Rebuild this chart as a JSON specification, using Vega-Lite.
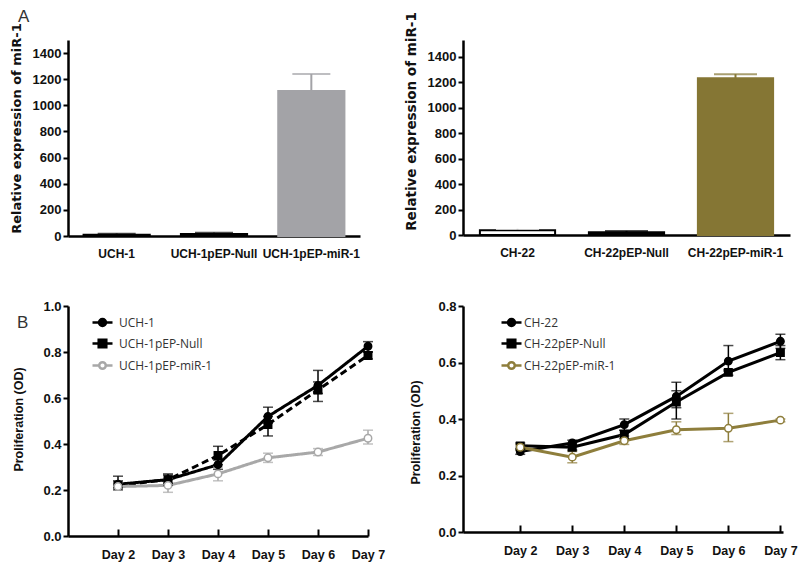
{
  "$schema": "https://vega.github.io/schema/vega-lite/v6.json",
  "background": "white",
  "padding": {"left": 9, "top": 7, "right": 5, "bottom": 3},
  "bounds": "flush",
  "columns": 2,
  "align": "each",
  "spacing": {"row": 70, "column": 95},
  "resolve": {
    "scale": {"color": "independent", "fill": "independent", "stroke": "independent", "shape": "independent", "strokeDash": "independent", "strokeWidth": "independent"},
    "legend": {"color": "independent", "fill": "independent", "stroke": "independent", "shape": "independent", "strokeDash": "independent", "strokeWidth": "independent"}
  },
  "datasets": {
    "barsA": [
      {"group": "UCH-1", "value": 10, "hi": 18},
      {"group": "UCH-1pEP-Null", "value": 15, "hi": 25},
      {"group": "UCH-1pEP-miR-1", "value": 1110, "hi": 1240}
    ],
    "barsB": [
      {"group": "CH-22", "value": 38, "hi": 48},
      {"group": "CH-22pEP-Null", "value": 22, "hi": 32},
      {"group": "CH-22pEP-miR-1", "value": 1230, "hi": 1262}
    ],
    "lineA": [
      {"series": "UCH-1", "day": 2, "value": 0.225, "lo": 0.2, "hi": 0.26},
      {"series": "UCH-1", "day": 3, "value": 0.245, "lo": 0.23, "hi": 0.27},
      {"series": "UCH-1", "day": 4, "value": 0.31, "lo": 0.29, "hi": 0.33},
      {"series": "UCH-1", "day": 5, "value": 0.52, "lo": 0.49, "hi": 0.56},
      {"series": "UCH-1", "day": 6, "value": 0.655, "lo": 0.62, "hi": 0.72},
      {"series": "UCH-1", "day": 7, "value": 0.825, "lo": 0.8, "hi": 0.845},
      {"series": "UCH-1pEP-Null", "day": 2, "value": 0.22, "lo": 0.21, "hi": 0.24},
      {"series": "UCH-1pEP-Null", "day": 3, "value": 0.245, "lo": 0.22, "hi": 0.265},
      {"series": "UCH-1pEP-Null", "day": 4, "value": 0.35, "lo": 0.31, "hi": 0.39},
      {"series": "UCH-1pEP-Null", "day": 5, "value": 0.485, "lo": 0.435, "hi": 0.52},
      {"series": "UCH-1pEP-Null", "day": 6, "value": 0.635, "lo": 0.585, "hi": 0.67},
      {"series": "UCH-1pEP-Null", "day": 7, "value": 0.785, "lo": 0.77, "hi": 0.8},
      {"series": "UCH-1pEP-miR-1", "day": 2, "value": 0.215, "lo": 0.2, "hi": 0.23},
      {"series": "UCH-1pEP-miR-1", "day": 3, "value": 0.22, "lo": 0.19, "hi": 0.25},
      {"series": "UCH-1pEP-miR-1", "day": 4, "value": 0.27, "lo": 0.24, "hi": 0.3},
      {"series": "UCH-1pEP-miR-1", "day": 5, "value": 0.34, "lo": 0.32, "hi": 0.36},
      {"series": "UCH-1pEP-miR-1", "day": 6, "value": 0.365, "lo": 0.35, "hi": 0.38},
      {"series": "UCH-1pEP-miR-1", "day": 7, "value": 0.425, "lo": 0.4, "hi": 0.46}
    ],
    "lineB": [
      {"series": "CH-22", "day": 2, "value": 0.285, "lo": 0.275, "hi": 0.295},
      {"series": "CH-22", "day": 3, "value": 0.315, "lo": 0.305, "hi": 0.325},
      {"series": "CH-22", "day": 4, "value": 0.38, "lo": 0.36, "hi": 0.4},
      {"series": "CH-22", "day": 5, "value": 0.48, "lo": 0.44, "hi": 0.53},
      {"series": "CH-22", "day": 6, "value": 0.605, "lo": 0.57, "hi": 0.66},
      {"series": "CH-22", "day": 7, "value": 0.675, "lo": 0.65, "hi": 0.7},
      {"series": "CH-22pEP-Null", "day": 2, "value": 0.305, "lo": 0.29, "hi": 0.315},
      {"series": "CH-22pEP-Null", "day": 3, "value": 0.3, "lo": 0.29, "hi": 0.31},
      {"series": "CH-22pEP-Null", "day": 4, "value": 0.345, "lo": 0.33, "hi": 0.36},
      {"series": "CH-22pEP-Null", "day": 5, "value": 0.46, "lo": 0.4, "hi": 0.5},
      {"series": "CH-22pEP-Null", "day": 6, "value": 0.565, "lo": 0.555, "hi": 0.575},
      {"series": "CH-22pEP-Null", "day": 7, "value": 0.635, "lo": 0.61, "hi": 0.66},
      {"series": "CH-22pEP-miR-1", "day": 2, "value": 0.3, "lo": 0.29, "hi": 0.31},
      {"series": "CH-22pEP-miR-1", "day": 3, "value": 0.265, "lo": 0.245, "hi": 0.285},
      {"series": "CH-22pEP-miR-1", "day": 4, "value": 0.323, "lo": 0.31, "hi": 0.34},
      {"series": "CH-22pEP-miR-1", "day": 5, "value": 0.362, "lo": 0.345, "hi": 0.39},
      {"series": "CH-22pEP-miR-1", "day": 6, "value": 0.367, "lo": 0.32, "hi": 0.42},
      {"series": "CH-22pEP-miR-1", "day": 7, "value": 0.396, "lo": 0.39, "hi": 0.4}
    ]
  },
  "concat": [
    {
      "width": 292,
      "height": 196,
      "title": {"text": "A", "anchor": "start", "frame": "group", "dx": -50, "offset": -16, "baseline": "alphabetic", "fontSize": 17, "fontWeight": "normal", "font": "Liberation Sans", "color": "#333333"},
      "data": {"name": "barsA"},
      "encoding": {
        "x": {"field": "group", "type": "nominal", "sort": null,
          "scale": {"paddingInner": 0.32, "paddingOuter": 0.16},
          "axis": {"title": null, "labelAngle": 0, "ticks": false, "labelPadding": 12, "labelFontSize": 12, "labelOverlap": false}}
      },
      "layer": [
        {
          "mark": {"type": "bar", "strokeWidth": 2},
          "encoding": {
            "y": {"field": "value", "type": "quantitative", "scale": {"domain": [0, 1500], "nice": false},
              "axis": {"title": "Relative expression of miR-1", "values": [0, 200, 400, 600, 800, 1000, 1200, 1400], "tickCount": 10, "format": "d", "labelOverlap": false, "titleX": -52, "titleY": 88, "titleBaseline": "middle", "titleFont": "DejaVu Sans", "titleFontSize": 13}},
            "fill": {"field": "group", "type": "nominal", "scale": {"domain": ["UCH-1", "UCH-1pEP-Null", "UCH-1pEP-miR-1"], "range": ["#000000", "#000000", "#a3a3a7"]}, "legend": null},
            "stroke": {"field": "group", "type": "nominal", "scale": {"domain": ["UCH-1", "UCH-1pEP-Null", "UCH-1pEP-miR-1"], "range": ["#000000", "#000000", "#a3a3a7"]}, "legend": null}
          }
        },
        {
          "mark": {"type": "rule", "strokeWidth": 2},
          "encoding": {
            "y": {"field": "value", "type": "quantitative"},
            "y2": {"field": "hi"},
            "stroke": {"field": "group", "type": "nominal", "legend": null}
          }
        },
        {
          "mark": {"type": "tick", "orient": "horizontal", "size": 38, "thickness": 2},
          "encoding": {
            "y": {"field": "hi", "type": "quantitative"},
            "fill": {"field": "group", "type": "nominal", "legend": null}
          }
        }
      ]
    },
    {
      "width": 327,
      "height": 195,
      "data": {"name": "barsB"},
      "encoding": {
        "x": {"field": "group", "type": "nominal", "sort": null,
          "scale": {"paddingInner": 0.31, "paddingOuter": 0.155},
          "axis": {"title": null, "labelAngle": 0, "ticks": false, "labelPadding": 12, "labelFontSize": 12, "labelOverlap": false}}
      },
      "layer": [
        {
          "mark": {"type": "bar", "strokeWidth": 2},
          "encoding": {
            "y": {"field": "value", "type": "quantitative", "scale": {"domain": [0, 1530], "nice": false},
              "axis": {"title": "Relative expression of miR-1", "values": [0, 200, 400, 600, 800, 1000, 1200, 1400], "tickCount": 10, "format": "d", "labelOverlap": false, "titleX": -52, "titleY": 81, "titleBaseline": "middle", "titleFont": "DejaVu Sans", "titleFontSize": 13.5}},
            "fill": {"field": "group", "type": "nominal", "scale": {"domain": ["CH-22", "CH-22pEP-Null", "CH-22pEP-miR-1"], "range": ["#ffffff", "#000000", "#857634"]}, "legend": null},
            "stroke": {"field": "group", "type": "nominal", "scale": {"domain": ["CH-22", "CH-22pEP-Null", "CH-22pEP-miR-1"], "range": ["#000000", "#000000", "#857634"]}, "legend": null}
          }
        },
        {
          "mark": {"type": "rule", "strokeWidth": 2},
          "encoding": {
            "y": {"field": "value", "type": "quantitative"},
            "y2": {"field": "hi"},
            "stroke": {"field": "group", "type": "nominal", "legend": null}
          }
        },
        {
          "mark": {"type": "tick", "orient": "horizontal", "size": 43, "thickness": 2},
          "encoding": {
            "y": {"field": "hi", "type": "quantitative"},
            "fill": {"field": "group", "type": "nominal", "scale": {"domain": ["CH-22", "CH-22pEP-Null", "CH-22pEP-miR-1"], "range": ["#000000", "#000000", "#6f6228"]}, "legend": null}
          }
        }
      ]
    },
    {
      "width": 300,
      "height": 230,
      "title": {"text": "B", "anchor": "start", "frame": "group", "dx": -51, "offset": 0, "dy": 45, "baseline": "alphabetic", "fontSize": 17, "fontWeight": "normal", "font": "Liberation Sans", "color": "#333333"},
      "data": {"name": "lineA"},
      "resolve": {"scale": {"shape": "independent", "fill": "independent", "stroke": "independent"}},
      "encoding": {
        "x": {"field": "day", "type": "quantitative", "scale": {"domain": [1, 7], "nice": false, "zero": false},
          "axis": {"title": null, "values": [2, 3, 4, 5, 6, 7], "tickCount": 10, "labelExpr": "'Day ' + datum.value", "labelOverlap": false, "labelFlush": false, "tickSize": -7, "labelPadding": 19, "labelFontSize": 12.5}}
      },
      "layer": [
        {
          "mark": {"type": "line"},
          "encoding": {
            "y": {"field": "value", "type": "quantitative", "scale": {"domain": [0, 1], "nice": false},
              "axis": {"title": "Proliferation (OD)", "values": [0, 0.2, 0.4, 0.6, 0.8, 1.0], "tickCount": 10, "format": ".1f", "labelOverlap": false, "titleX": -50, "titleY": 113, "titleBaseline": "middle", "titleFontSize": 12.5}},
            "color": {"field": "series", "type": "nominal",
              "scale": {"domain": ["UCH-1", "UCH-1pEP-Null", "UCH-1pEP-miR-1"], "range": ["#000000", "#000000", "#a8a8a8"]}, "legend": null},
            "strokeDash": {"field": "series", "type": "nominal", "scale": {"domain": ["UCH-1", "UCH-1pEP-Null", "UCH-1pEP-miR-1"], "range": [[1, 0], [7, 4], [1, 0]]}, "legend": null},
            "strokeWidth": {"field": "series", "type": "nominal", "scale": {"domain": ["UCH-1", "UCH-1pEP-Null", "UCH-1pEP-miR-1"], "range": [3, 3, 2]}, "legend": null}
          }
        },
        {
          "mark": {"type": "rule", "strokeWidth": 1.5},
          "encoding": {
            "y": {"field": "lo", "type": "quantitative"},
            "y2": {"field": "hi"},
            "color": {"field": "series", "type": "nominal", "legend": null}
          }
        },
        {
          "mark": {"type": "tick", "orient": "horizontal", "size": 10, "thickness": 1.5},
          "encoding": {
            "y": {"field": "lo", "type": "quantitative"},
            "color": {"field": "series", "type": "nominal", "legend": null}
          }
        },
        {
          "mark": {"type": "tick", "orient": "horizontal", "size": 10, "thickness": 1.5},
          "encoding": {
            "y": {"field": "hi", "type": "quantitative"},
            "color": {"field": "series", "type": "nominal", "legend": null}
          }
        },
        {
          "mark": {"type": "point", "filled": true, "size": 55, "strokeWidth": 1.5, "opacity": 1},
          "encoding": {
            "y": {"field": "value", "type": "quantitative"},
            "shape": {"field": "series", "type": "nominal", "scale": {"domain": ["UCH-1", "UCH-1pEP-Null", "UCH-1pEP-miR-1"], "range": ["circle", "square", "circle"]}, "legend": null},
            "fill": {"field": "series", "type": "nominal", "scale": {"domain": ["UCH-1", "UCH-1pEP-Null", "UCH-1pEP-miR-1"], "range": ["#000000", "#000000", "#ffffff"]}, "legend": null},
            "stroke": {"field": "series", "type": "nominal", "scale": {"domain": ["UCH-1", "UCH-1pEP-Null", "UCH-1pEP-miR-1"], "range": ["#000000", "#000000", "#a8a8a8"]}, "legend": null}
          }
        },
        {
          "transform": [{"filter": "false"}],
          "mark": {"type": "point", "filled": true, "size": 400, "strokeWidth": 2.5, "opacity": 1},
          "encoding": {
            "y": {"field": "value", "type": "quantitative"},
            "shape": {"field": "series", "type": "nominal",
              "scale": {"domain": ["UCH-1", "UCH-1pEP-Null", "UCH-1pEP-miR-1"], "range": ["M-1,0H1M0.35,0A0.35,0.35 0 1 1 -0.35,0A0.35,0.35 0 1 1 0.35,0Z", "M-1,0H1M-0.38,-0.38H0.38V0.38H-0.38Z", "M-1,0H-0.33M0.33,0H1M0.33,0A0.33,0.33 0 1 1 -0.33,0A0.33,0.33 0 1 1 0.33,0Z"]},
              "legend": {"orient": "none", "legendX": 23, "legendY": 5, "title": null, "padding": 0, "rowPadding": 1, "symbolSize": 400, "symbolStrokeWidth": 2.5, "labelOffset": 5, "labelFont": "Open Sans", "labelFontSize": 12, "labelFontWeight": "normal", "labelColor": "#333333"}},
            "fill": {"field": "series", "type": "nominal",
              "scale": {"domain": ["UCH-1", "UCH-1pEP-Null", "UCH-1pEP-miR-1"], "range": ["#000000", "#000000", "#ffffff"]},
              "legend": {"orient": "none", "legendX": 23, "legendY": 5, "title": null, "padding": 0, "rowPadding": 1, "symbolSize": 400, "symbolStrokeWidth": 2.5, "labelOffset": 5, "labelFont": "Open Sans", "labelFontSize": 12, "labelFontWeight": "normal", "labelColor": "#333333"}},
            "stroke": {"field": "series", "type": "nominal",
              "scale": {"domain": ["UCH-1", "UCH-1pEP-Null", "UCH-1pEP-miR-1"], "range": ["#000000", "#000000", "#a8a8a8"]},
              "legend": {"orient": "none", "legendX": 23, "legendY": 5, "title": null, "padding": 0, "rowPadding": 1, "symbolSize": 400, "symbolStrokeWidth": 2.5, "labelOffset": 5, "labelFont": "Open Sans", "labelFontSize": 12, "labelFontWeight": "normal", "labelColor": "#333333"}}
          }
        }
      ]
    },
    {
      "width": 320,
      "height": 226,
      "data": {"name": "lineB"},
      "resolve": {"scale": {"shape": "independent", "fill": "independent", "stroke": "independent"}},
      "encoding": {
        "x": {"field": "day", "type": "quantitative", "scale": {"domain": [0.9, 7.05], "nice": false, "zero": false},
          "axis": {"title": null, "values": [2, 3, 4, 5, 6, 7], "tickCount": 10, "labelExpr": "'Day ' + datum.value", "labelOverlap": false, "labelFlush": false, "tickSize": -7, "labelPadding": 19, "labelFontSize": 12.5}}
      },
      "layer": [
        {
          "mark": {"type": "line"},
          "encoding": {
            "y": {"field": "value", "type": "quantitative", "scale": {"domain": [0, 0.8], "nice": false},
              "axis": {"title": "Proliferation (OD)", "values": [0, 0.2, 0.4, 0.6, 0.8], "tickCount": 10, "format": ".1f", "labelOverlap": false, "titleX": -48, "titleY": 126, "titleBaseline": "middle", "titleFontSize": 12.5}},
            "color": {"field": "series", "type": "nominal",
              "scale": {"domain": ["CH-22", "CH-22pEP-Null", "CH-22pEP-miR-1"], "range": ["#000000", "#000000", "#8e7e3c"]}, "legend": null},
            "strokeWidth": {"field": "series", "type": "nominal", "scale": {"domain": ["CH-22", "CH-22pEP-Null", "CH-22pEP-miR-1"], "range": [3, 3, 2]}, "legend": null}
          }
        },
        {
          "mark": {"type": "rule", "strokeWidth": 1.5},
          "encoding": {
            "y": {"field": "lo", "type": "quantitative"},
            "y2": {"field": "hi"},
            "color": {"field": "series", "type": "nominal", "legend": null}
          }
        },
        {
          "mark": {"type": "tick", "orient": "horizontal", "size": 10, "thickness": 1.5},
          "encoding": {
            "y": {"field": "lo", "type": "quantitative"},
            "color": {"field": "series", "type": "nominal", "legend": null}
          }
        },
        {
          "mark": {"type": "tick", "orient": "horizontal", "size": 10, "thickness": 1.5},
          "encoding": {
            "y": {"field": "hi", "type": "quantitative"},
            "color": {"field": "series", "type": "nominal", "legend": null}
          }
        },
        {
          "mark": {"type": "point", "filled": true, "size": 55, "strokeWidth": 1.5, "opacity": 1},
          "encoding": {
            "y": {"field": "value", "type": "quantitative"},
            "shape": {"field": "series", "type": "nominal", "scale": {"domain": ["CH-22", "CH-22pEP-Null", "CH-22pEP-miR-1"], "range": ["circle", "square", "circle"]}, "legend": null},
            "fill": {"field": "series", "type": "nominal", "scale": {"domain": ["CH-22", "CH-22pEP-Null", "CH-22pEP-miR-1"], "range": ["#000000", "#000000", "#ffffff"]}, "legend": null},
            "stroke": {"field": "series", "type": "nominal", "scale": {"domain": ["CH-22", "CH-22pEP-Null", "CH-22pEP-miR-1"], "range": ["#000000", "#000000", "#8e7e3c"]}, "legend": null}
          }
        },
        {
          "transform": [{"filter": "false"}],
          "mark": {"type": "point", "filled": true, "size": 400, "strokeWidth": 2.5, "opacity": 1},
          "encoding": {
            "y": {"field": "value", "type": "quantitative"},
            "shape": {"field": "series", "type": "nominal",
              "scale": {"domain": ["CH-22", "CH-22pEP-Null", "CH-22pEP-miR-1"], "range": ["M-1,0H1M0.35,0A0.35,0.35 0 1 1 -0.35,0A0.35,0.35 0 1 1 0.35,0Z", "M-1,0H1M-0.38,-0.38H0.38V0.38H-0.38Z", "M-1,0H-0.33M0.33,0H1M0.33,0A0.33,0.33 0 1 1 -0.33,0A0.33,0.33 0 1 1 0.33,0Z"]},
              "legend": {"orient": "none", "legendX": 37, "legendY": 5, "title": null, "padding": 0, "rowPadding": 1, "symbolSize": 400, "symbolStrokeWidth": 2.5, "labelOffset": 1, "labelFont": "Open Sans", "labelFontSize": 12, "labelFontWeight": "normal", "labelColor": "#333333"}},
            "fill": {"field": "series", "type": "nominal",
              "scale": {"domain": ["CH-22", "CH-22pEP-Null", "CH-22pEP-miR-1"], "range": ["#000000", "#000000", "#ffffff"]},
              "legend": {"orient": "none", "legendX": 37, "legendY": 5, "title": null, "padding": 0, "rowPadding": 1, "symbolSize": 400, "symbolStrokeWidth": 2.5, "labelOffset": 1, "labelFont": "Open Sans", "labelFontSize": 12, "labelFontWeight": "normal", "labelColor": "#333333"}},
            "stroke": {"field": "series", "type": "nominal",
              "scale": {"domain": ["CH-22", "CH-22pEP-Null", "CH-22pEP-miR-1"], "range": ["#000000", "#000000", "#8e7e3c"]},
              "legend": {"orient": "none", "legendX": 37, "legendY": 5, "title": null, "padding": 0, "rowPadding": 1, "symbolSize": 400, "symbolStrokeWidth": 2.5, "labelOffset": 1, "labelFont": "Open Sans", "labelFontSize": 12, "labelFontWeight": "normal", "labelColor": "#333333"}}
          }
        }
      ]
    }
  ],
  "config": {
    "view": {"stroke": null},
    "axis": {
      "grid": false,
      "domainColor": "#000000",
      "domainWidth": 2.5,
      "tickColor": "#000000",
      "tickWidth": 2,
      "tickSize": 5,
      "labelPadding": 2,
      "labelOverlap": false,
      "labelFont": "Liberation Sans",
      "labelFontWeight": "bold",
      "labelFontSize": 13,
      "labelColor": "#111111",
      "titleFont": "Liberation Sans",
      "titleFontWeight": "bold",
      "titleColor": "#111111"
    }
  }
}
